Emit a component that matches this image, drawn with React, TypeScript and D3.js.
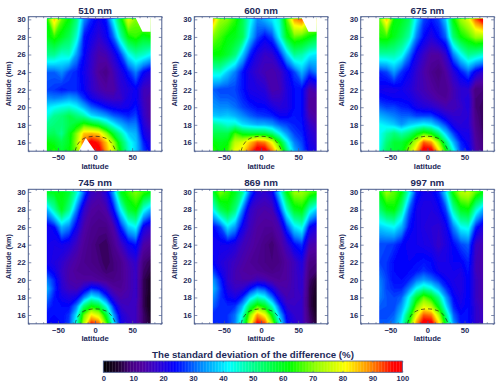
import React, {useEffect, useRef} from 'react'
import * as d3 from 'd3';

const lats = [-65, -55, -45, -35, -25, -15, -5, 5, 15, 25, 35, 45, 55, 65, 75];
// rows run from the top of the panel downwards
const alts = [30, 28, 26, 24, 22, 21, 20, 19, 18, 17, 16, 15];

const nm510 = [
  [62, 85, 68, 62, 52, 33, 26, 22, 25, 42, 60, 78, 70, 75, 75],
  [60, 65, 60, 55, 45, 25, 22, 18, 22, 30, 48, 62, 65, 60, 62],
  [50, 50, 45, 46, 34, 24, 18, 14, 15, 20, 28, 42, 48, 46, 42],
  [30, 30, 33, 28, 26, 22, 17, 12, 10, 15, 20, 26, 32, 24, 20],
  [28, 27, 25, 26, 26, 23, 18, 15, 13, 13, 18, 20, 23, 16, 15],
  [33, 32, 33, 35, 33, 27, 22, 19, 17, 16, 17, 21, 23, 16, 13],
  [40, 42, 44, 45, 42, 36, 30, 27, 24, 22, 21, 22, 25, 17, 13],
  [44, 50, 52, 56, 52, 48, 40, 37, 34, 30, 28, 26, 28, 18, 13],
  [50, 52, 52, 56, 60, 66, 62, 58, 50, 42, 36, 32, 32, 20, 15],
  [54, 55, 50, 60, 70, 85, 86, 84, 72, 58, 48, 38, 36, 22, 18],
  [62, 60, 56, 60, 72, 92, 99, 95, 85, 72, 56, 44, 38, 26, 20],
  [62, 65, 58, 62, 70, 85, 100, 100, 88, 76, 60, 46, 38, 28, 22],
];
const nm600 = [
  [88, 72, 70, 65, 56, 44, 33, 36, 40, 46, 68, 88, 92, 80, 85],
  [70, 66, 62, 60, 55, 38, 28, 24, 28, 42, 60, 68, 66, 62, 58],
  [62, 62, 58, 52, 38, 26, 20, 17, 18, 25, 38, 50, 48, 42, 40],
  [45, 45, 38, 32, 25, 20, 17, 15, 14, 16, 22, 28, 36, 28, 32],
  [30, 28, 28, 28, 25, 21, 20, 19, 14, 15, 20, 24, 24, 14, 16],
  [32, 30, 30, 29, 26, 23, 22, 21, 17, 17, 20, 24, 24, 13, 12],
  [34, 33, 33, 31, 28, 26, 24, 24, 21, 19, 20, 24, 24, 13, 12],
  [38, 37, 38, 36, 33, 30, 28, 27, 26, 23, 23, 25, 24, 15, 13],
  [50, 48, 45, 46, 40, 38, 36, 36, 34, 30, 28, 26, 25, 18, 15],
  [56, 56, 56, 66, 60, 58, 58, 57, 52, 42, 34, 28, 26, 20, 17],
  [62, 60, 62, 75, 78, 85, 92, 90, 80, 62, 44, 32, 28, 21, 18],
  [65, 62, 65, 80, 82, 92, 100, 100, 90, 75, 52, 36, 30, 22, 20],
];
const nm675 = [
  [68, 85, 62, 60, 55, 40, 28, 25, 28, 38, 62, 72, 78, 92, 100],
  [64, 65, 60, 55, 48, 32, 24, 20, 24, 30, 52, 62, 66, 72, 72],
  [48, 48, 48, 44, 32, 22, 17, 13, 13, 18, 32, 42, 50, 48, 45],
  [26, 28, 34, 27, 23, 18, 14, 11, 9, 13, 19, 25, 30, 22, 18],
  [22, 21, 21, 22, 20, 17, 15, 13, 11, 11, 15, 18, 18, 9, 9],
  [25, 24, 23, 23, 22, 19, 17, 15, 13, 12, 15, 18, 20, 9, 8],
  [30, 28, 28, 26, 25, 22, 20, 19, 17, 15, 15, 17, 20, 9, 7],
  [36, 34, 32, 30, 30, 28, 28, 28, 24, 20, 18, 18, 19, 10, 7],
  [42, 40, 38, 34, 38, 40, 42, 40, 34, 28, 21, 19, 19, 11, 7],
  [42, 48, 52, 48, 52, 60, 66, 62, 52, 38, 28, 22, 21, 12, 8],
  [42, 52, 58, 58, 64, 76, 92, 88, 72, 52, 36, 26, 22, 13, 9],
  [44, 55, 58, 60, 72, 85, 100, 100, 84, 62, 44, 28, 24, 14, 10],
];
const nm745 = [
  [60, 60, 62, 58, 46, 30, 17, 15, 20, 35, 60, 66, 70, 66, 62],
  [36, 48, 60, 50, 32, 18, 13, 12, 14, 24, 42, 58, 62, 44, 36],
  [22, 24, 36, 32, 22, 14, 11, 10, 10, 14, 26, 38, 42, 22, 18],
  [22, 21, 22, 20, 16, 12, 10, 8, 7, 11, 16, 22, 25, 14, 12],
  [22, 20, 18, 15, 13, 11, 10, 9, 7, 9, 11, 15, 18, 9, 7],
  [26, 22, 17, 14, 12, 11, 11, 10, 8, 9, 11, 14, 17, 8, 6],
  [32, 26, 18, 14, 13, 13, 13, 12, 11, 10, 11, 14, 17, 7, 4],
  [36, 27, 19, 16, 15, 20, 26, 24, 18, 13, 12, 14, 17, 7, 4],
  [32, 25, 22, 20, 22, 32, 42, 38, 28, 18, 14, 15, 17, 7, 3],
  [28, 24, 24, 24, 32, 52, 62, 58, 44, 26, 17, 16, 16, 7, 3],
  [24, 24, 24, 27, 40, 68, 82, 76, 58, 34, 20, 17, 16, 8, 4],
  [24, 23, 24, 28, 44, 74, 96, 92, 68, 40, 22, 18, 16, 8, 5],
];
const nm869 = [
  [58, 70, 66, 60, 50, 30, 20, 18, 22, 40, 62, 72, 72, 68, 65],
  [42, 55, 60, 52, 32, 18, 15, 14, 15, 26, 46, 60, 62, 46, 38],
  [24, 28, 40, 34, 22, 16, 13, 12, 12, 15, 28, 40, 44, 24, 20],
  [22, 22, 22, 20, 16, 14, 12, 10, 8, 12, 17, 24, 27, 15, 14],
  [24, 20, 18, 16, 14, 12, 11, 10, 9, 10, 13, 16, 20, 10, 9],
  [28, 22, 18, 15, 13, 12, 12, 11, 10, 11, 13, 16, 19, 9, 8],
  [34, 26, 18, 15, 14, 14, 16, 15, 13, 12, 13, 16, 18, 8, 5],
  [37, 28, 20, 17, 18, 24, 30, 28, 21, 15, 14, 16, 18, 7, 4],
  [33, 27, 23, 21, 26, 38, 46, 42, 31, 20, 15, 16, 17, 7, 3],
  [30, 26, 26, 27, 36, 55, 66, 60, 46, 28, 18, 17, 17, 7, 3],
  [26, 26, 27, 31, 44, 70, 88, 80, 60, 36, 22, 18, 17, 8, 4],
  [26, 26, 27, 32, 48, 78, 98, 94, 72, 44, 24, 19, 17, 9, 5],
];
const nm997 = [
  [62, 72, 68, 62, 44, 26, 22, 22, 26, 40, 64, 74, 76, 68, 62],
  [52, 60, 62, 50, 30, 22, 20, 20, 22, 28, 48, 60, 62, 46, 36],
  [38, 40, 42, 36, 25, 22, 20, 19, 18, 22, 32, 42, 44, 26, 20],
  [28, 28, 27, 24, 22, 22, 21, 20, 17, 20, 24, 28, 30, 17, 15],
  [28, 27, 24, 23, 23, 24, 25, 24, 21, 21, 23, 23, 26, 16, 14],
  [30, 27, 24, 23, 24, 25, 27, 25, 22, 21, 22, 21, 25, 16, 14],
  [32, 28, 24, 24, 26, 31, 34, 31, 27, 23, 21, 20, 24, 17, 14],
  [33, 28, 26, 26, 32, 42, 48, 44, 36, 27, 22, 20, 24, 17, 14],
  [32, 29, 28, 30, 42, 58, 68, 62, 50, 34, 24, 21, 24, 17, 14],
  [30, 29, 28, 34, 46, 68, 78, 74, 60, 40, 26, 22, 24, 18, 15],
  [28, 28, 30, 38, 56, 78, 92, 90, 74, 50, 30, 24, 24, 18, 16],
  [30, 30, 32, 42, 62, 88, 100, 100, 84, 58, 34, 25, 25, 18, 16],
];

// no-data holes, as [lat, alt]
const topGap = [[54, 30.3], [64, 28.6], [75, 28.6], [75, 30.3]];
const lowGap = [[-22, 15], [-12.5, 16.5], [0, 15]];

// dashed curve drawn on each panel, as lat and alt
const curveLat = [-27, -24, -18, -10, 0, 10, 18, 24, 28];
const curveAlt = [15, 15.7, 16.3, 16.6, 16.7, 16.6, 16.3, 15.7, 15];

const panels = [
  {title: '510 nm', grid: nm510, gaps: [topGap, lowGap]},
  {title: '600 nm', grid: nm600, gaps: [topGap]},
  {title: '675 nm', grid: nm675, gaps: []},
  {title: '745 nm', grid: nm745, gaps: []},
  {title: '869 nm', grid: nm869, gaps: []},
  {title: '997 nm', grid: nm997, gaps: []},
];

const colorStops = [0, 5, 9, 13, 18, 24, 32, 42, 50, 62.5, 71, 81, 90, 97, 100];
const colorValues = ['#000000', '#200030', '#45007f', '#5000a0', '#3000d0', '#0000ff', '#0080ff', '#00ffff', '#00ff90',
  '#00ff00', '#90ff00', '#ffff00', '#ff8000', '#ff0000', '#ff0000'];
const barTicks = [0, 10, 20, 30, 40, 50, 60, 70, 80, 90, 100];

const panelLeft = [28.3, 194.3, 360.7];
const panelTop = [16.7, 189.3];
const panelWidth = 133.5;
const panelHeight = 134.5;
const ink = '#1e2a5a';
const frame = '#4a5c8c';
const font = '"Liberation Sans", Arial, sans-serif';

export default function App() {
  const svgRef = useRef<SVGSVGElement>(null);

  useEffect(() => {
    const svg = d3.select(svgRef.current);
    //clear canvas before redrawing
    svg.selectAll('*').remove();
    svg.style('font-family', font).style('font-weight', 'bold');

    const color = d3.scaleLinear<string>().domain(colorStops).range(colorValues).clamp(true);
    const defs = svg.append('defs');
    defs.append('filter').attr('id', 'soft').attr('x', '-5%').attr('y', '-5%').attr('width', '110%').attr('height', '110%')
      .append('feGaussianBlur').attr('stdDeviation', 0.7);

    const thresholds = d3.range(0, 100, 1);

    panels.forEach((panel, i) => {
      const left = panelLeft[i % 3];
      const top = panelTop[Math.floor(i / 3)];
      const g = svg.append('g').attr('transform', `translate(${left},${top})`);

      const x = d3.scaleLinear().domain([-90, 90]).range([0, panelWidth]);
      const y = d3.scaleLinear().domain([15, 30.3]).range([panelHeight, 0]);

      // rows bottom-up for d3.contours, nodes sit at cell centres
      const rows = [...panel.grid].reverse();
      const altsUp = [...alts].reverse();
      const values = rows.flat();
      const gridX = d3.scaleLinear().domain(lats.map((_, k) => k + 0.5)).range(lats.map(d => x(d))).clamp(true);
      const gridY = d3.scaleLinear().domain(altsUp.map((_, k) => k + 0.5)).range(altsUp.map(d => y(d))).clamp(true);
      const path = d3.geoPath(d3.geoTransform({
        point(px, py) { this.stream.point(gridX(px), gridY(py)); }
      }));
      const contours = d3.contours().size([lats.length, altsUp.length]).thresholds(thresholds)(values);

      const clipId = `clip-${i}`;
      defs.append('clipPath').attr('id', clipId).append('rect')
        .attr('x', x(-65)).attr('y', y(30.3))
        .attr('width', x(75) - x(-65)).attr('height', y(15) - y(30.3));

      const map = g.append('g').attr('clip-path', `url(#${clipId})`).append('g').attr('filter', 'url(#soft)');
      map.selectAll('path')
        .data(contours)
        .join('path')
        .attr('d', d => path(d))
        .attr('fill', d => color(d.value + 0.5))
        .attr('stroke', d => color(d.value + 0.5))
        .attr('stroke-width', 0.3);

      g.append('g').selectAll('path')
        .data(panel.gaps)
        .join('path')
        .attr('d', d => d3.line().x(p => x(p[0])).y(p => y(p[1]))(d) + 'Z')
        .attr('fill', 'white');

      g.append('path')
        .attr('d', d3.line<number>().x(d => x(d)).y((_, k) => y(curveAlt[k])).curve(d3.curveCatmullRom)(curveLat))
        .attr('fill', 'none')
        .attr('stroke', '#222')
        .attr('stroke-width', 0.7)
        .attr('stroke-dasharray', '4 3');

      // frame and ticks on all four sides
      g.append('rect').attr('width', panelWidth).attr('height', panelHeight)
        .attr('fill', 'none').attr('stroke', frame).attr('stroke-width', 1);

      const styleAxis = sel => {
        sel.select('.domain').remove();
        sel.selectAll('line').attr('stroke', frame).attr('stroke-width', 0.7);
        sel.selectAll('text').attr('fill', ink).attr('font-size', 7.6).attr('font-family', font);
      };
      const latMajor = [-50, 0, 50];
      const altMajor = d3.range(16, 31, 2);
      const latMinor = d3.range(-90, 91, 10).filter(d => !latMajor.includes(d));
      const altMinor = d3.range(15, 31, 1).filter(d => !altMajor.includes(d));

      g.append('g').attr('transform', `translate(0,${panelHeight})`)
        .call(d3.axisBottom(x).tickValues(latMajor).tickSize(-3).tickPadding(3.5)).call(styleAxis);
      g.append('g').attr('transform', `translate(0,${panelHeight})`)
        .call(d3.axisBottom(x).tickValues(latMinor).tickSize(-1.5).tickFormat(() => '')).call(styleAxis);
      g.append('g').call(d3.axisTop(x).tickValues(latMajor).tickSize(-3).tickFormat(() => '')).call(styleAxis);
      g.append('g').call(d3.axisTop(x).tickValues(latMinor).tickSize(-1.5).tickFormat(() => '')).call(styleAxis);
      g.append('g').call(d3.axisLeft(y).tickValues(altMajor).tickSize(-3).tickPadding(2.5)).call(styleAxis);
      g.append('g').call(d3.axisLeft(y).tickValues(altMinor).tickSize(-1.5).tickFormat(() => '')).call(styleAxis);
      g.append('g').attr('transform', `translate(${panelWidth},0)`)
        .call(d3.axisRight(y).tickValues(altMajor).tickSize(-3).tickFormat(() => '')).call(styleAxis);
      g.append('g').attr('transform', `translate(${panelWidth},0)`)
        .call(d3.axisRight(y).tickValues(altMinor).tickSize(-1.5).tickFormat(() => '')).call(styleAxis);

      g.append('text').attr('x', panelWidth / 2).attr('y', -3)
        .attr('text-anchor', 'middle').attr('fill', ink).attr('font-size', 9.8).text(panel.title);
      g.append('text').attr('x', panelWidth / 2).attr('y', panelHeight + 17.5)
        .attr('text-anchor', 'middle').attr('fill', ink).attr('font-size', 7.7).text('latitude');
      g.append('text').attr('transform', `translate(${-17},${panelHeight / 2}) rotate(-90)`)
        .attr('text-anchor', 'middle').attr('fill', ink).attr('font-size', 7.4).text('Altitude (km)');
    });

    // colour bar
    const barX = d3.scaleLinear().domain([0, 100]).range([103.3, 402.3]);
    const barTop = 361;
    const barHeight = 11.3;
    const bar = svg.append('g');
    bar.selectAll('rect')
      .data(d3.range(0, 100, 0.5))
      .join('rect')
      .attr('x', d => barX(d))
      .attr('y', barTop)
      .attr('width', barX(0.5) - barX(0) + 0.3)
      .attr('height', barHeight)
      .attr('fill', d => color(d + 0.25));
    bar.append('rect').attr('x', barX(0)).attr('y', barTop).attr('width', barX(100) - barX(0)).attr('height', barHeight)
      .attr('fill', 'none').attr('stroke', frame).attr('stroke-width', 0.8);
    bar.append('g').attr('transform', `translate(0,${barTop + barHeight})`)
      .call(d3.axisBottom(barX).tickValues(barTicks).tickSize(-1.5).tickPadding(3.5))
      .call(sel => {
        sel.select('.domain').remove();
        sel.selectAll('line').attr('stroke', frame).attr('stroke-width', 0.6);
        sel.selectAll('text').attr('fill', ink).attr('font-size', 7.6).attr('font-family', font);
      });
    bar.append('g').attr('transform', `translate(0,${barTop})`)
      .call(d3.axisTop(barX).tickValues(barTicks).tickSize(-1.5).tickFormat(() => ''))
      .call(sel => {
        sel.select('.domain').remove();
        sel.selectAll('line').attr('stroke', frame).attr('stroke-width', 0.6);
      });
    svg.append('text').attr('x', 253).attr('y', 358)
      .attr('text-anchor', 'middle').attr('fill', ink).attr('font-size', 9.7)
      .text('The standard deviation of the difference (%)');
  }, []);

  return (
    <svg
      ref={svgRef}
      width={500}
      height={388}
      style={{position: 'absolute', left: 0, top: 0, background: 'white'}}
    />
  );
}
